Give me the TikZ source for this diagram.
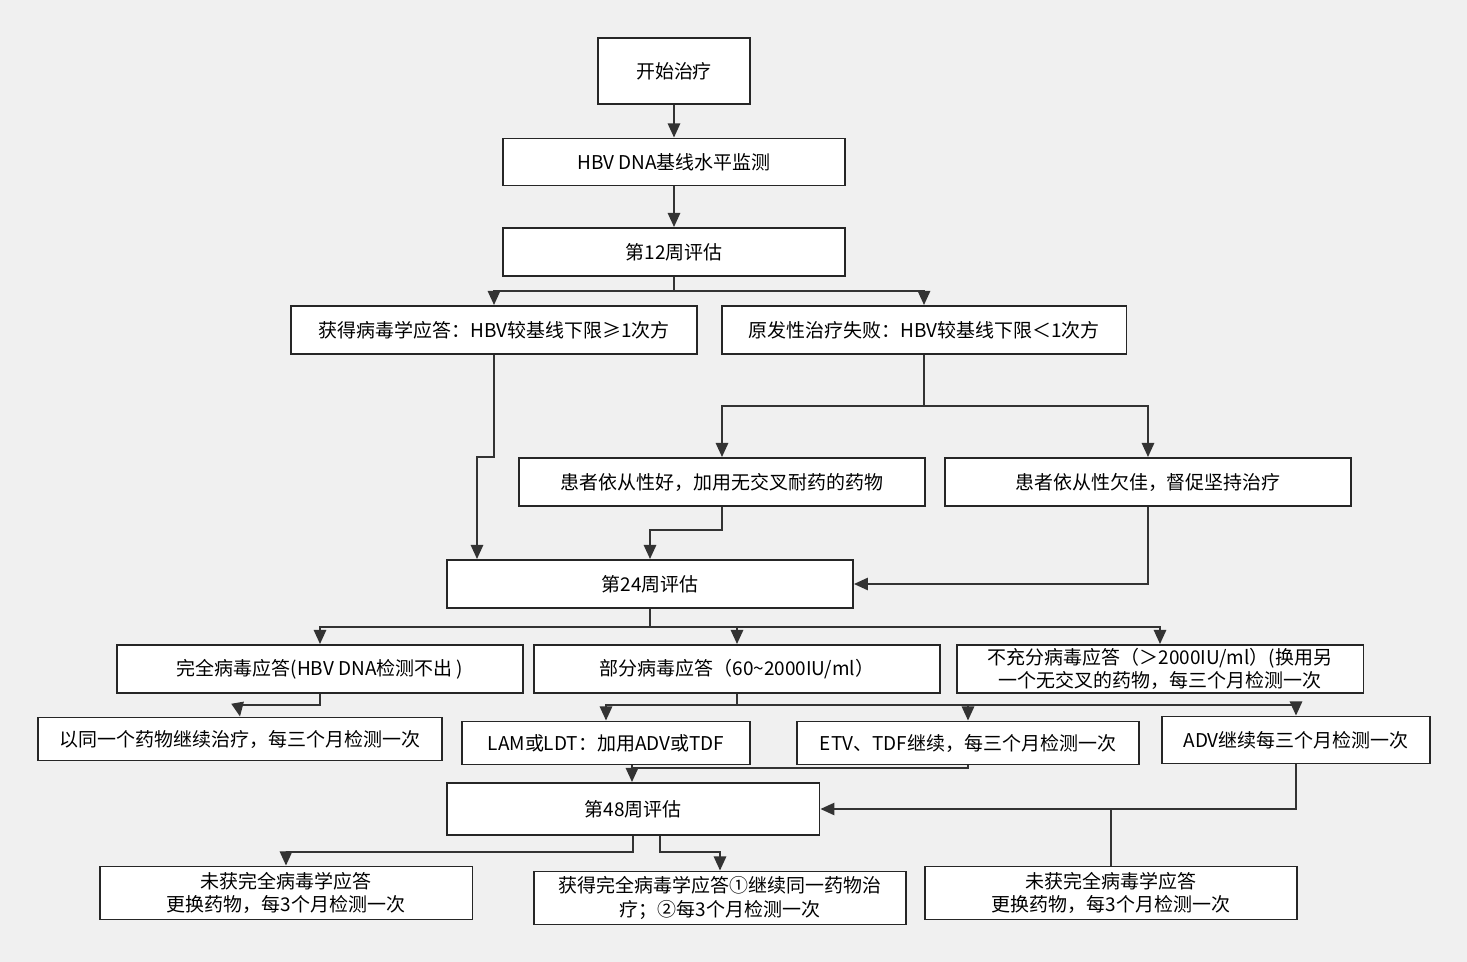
\documentclass[tikz,border=0pt]{standalone}
\usepackage{fontspec}
\setmainfont{Noto Sans CJK SC}
\usetikzlibrary{arrows.meta}
\begin{document}
\begin{tikzpicture}[
        x=0.02cm, y=-0.02cm,
        line width=1.1pt,
        font=\fontsize{10.8}{13.4}\selectfont
    ]
    \tikzset{
        box/.style = {rectangle, draw=black!85, fill=white, align=center, inner sep=0pt},
        edgen/.style = {-, draw=black!80},
        edgea/.style = {-{Triangle[length=8pt,width=7pt]}, draw=black!80},
    }
    \fill[black!6] (0,0) rectangle (1467,962);
    \node[box, minimum width=3.04cm, minimum height=1.32cm] at (674,71) (start) {开始治疗};
    \node[box, minimum width=6.84cm, minimum height=0.94cm] at (674,162) (hbv) {HBV DNA基线水平监测};
    \node[box, minimum width=6.84cm, minimum height=0.96cm] at (674,252) (w12) {第12周评估};
    \node[box, minimum width=8.12cm, minimum height=0.96cm] at (494,330) (resp) {获得病毒学应答：HBV较基线下限≥1次方};
    \node[box, minimum width=8.10cm, minimum height=0.96cm] at (924,330) (fail) {原发性治疗失败：HBV较基线下限＜1次方};
    \node[box, minimum width=8.12cm, minimum height=0.96cm] at (722,482) (good) {患者依从性好，加用无交叉耐药的药物};
    \node[box, minimum width=8.12cm, minimum height=0.96cm] at (1148,482) (poor) {患者依从性欠佳，督促坚持治疗};
    \node[box, minimum width=8.12cm, minimum height=0.96cm] at (650,584) (w24) {第24周评估};
    \node[box, minimum width=8.12cm, minimum height=0.96cm] at (320,669) (full) {完全病毒应答(HBV DNA检测不出 )};
    \node[box, minimum width=8.12cm, minimum height=0.96cm] at (737,669) (part) {部分病毒应答（60\textasciitilde2000IU/ml）};
    \node[box, minimum width=8.14cm, minimum height=0.96cm] at (1160,669) (insuf) {不充分病毒应答（＞2000IU/ml）(换用另\\一个无交叉的药物，每三个月检测一次};
    \node[box, minimum width=8.08cm, minimum height=0.86cm] at (240,739) (same) {以同一个药物继续治疗，每三个月检测一次};
    \node[box, minimum width=5.76cm, minimum height=0.86cm] at (606,743) (lam) {LAM或LDT：加用ADV或TDF};
    \node[box, minimum width=6.84cm, minimum height=0.86cm] at (968,743) (etv) {ETV、TDF继续，每三个月检测一次};
    \node[box, minimum width=5.36cm, minimum height=0.94cm] at (1296,740) (adv) {ADV继续每三个月检测一次};
    \node[box, minimum width=7.46cm, minimum height=1.04cm] at (633,809) (w48) {第48周评估};
    \node[box, minimum width=7.46cm, minimum height=1.06cm] at (286,893) (nr1) {未获完全病毒学应答\\更换药物，每3个月检测一次};
    \node[box, minimum width=7.44cm, minimum height=1.06cm] at (720,898) (ok) {获得完全病毒学应答①继续同一药物治\\疗；②每3个月检测一次};
    \node[box, minimum width=7.44cm, minimum height=1.06cm] at (1111,893) (nr2) {未获完全病毒学应答\\更换药物，每3个月检测一次};
    %
    \coordinate (j12) at (674,291);
    \coordinate (jf) at (924,406);
    \coordinate (jr) at (477,457);
    \coordinate (jg) at (650,530);
    \coordinate (j24) at (650,627);
    \coordinate (jfu) at (238,705);
    \coordinate (jp) at (737,705);
    \coordinate (je) at (632,768);
    \coordinate (j48a) at (286,852);
    \coordinate (j48b) at (720,852);
    %
    \draw[edgea] (start) -- (hbv);
    \draw[edgea] (hbv) -- (w12);
    \draw[edgen] (w12) -- (j12);
    \draw[edgea] (j12) -| (resp);
    \draw[edgea] (j12) -| (fail);
    %
    \draw[edgen] (fail) -- (jf);
    \draw[edgea] (jf) -| (good);
    \draw[edgea] (jf) -| (poor);
    \draw[edgea] (resp.south) |- (jr) -- (jr |- w24.north);
    \draw[edgea] (good.south) |- (jg) -- (w24.north);
    \draw[edgea] (poor.south) |- (w24.east);
    %
    \draw[edgen] (w24) -- (j24);
    \draw[edgea] (j24) -| (full);
    \draw[edgea] (j24) -| (part);
    \draw[edgea] (j24) -| (insuf);
    \draw[edgea] (full.south) |- (jfu) -- (same.north);
    \draw[edgen] (part) -- (jp);
    \draw[edgea] (jp) -| (lam.north);
    \draw[edgea] (jp) -| (etv.north);
    \draw[edgea] (jp) -| (adv.north);
    %
    \draw[edgea] (lam.south -| je) -- (je |- w48.north);
    \draw[edgen] (etv.south) |- (je);
    \draw[edgea] (adv.south) |- (w48.east);
    \draw[edgen] (nr2.north) -- (nr2.north |- w48.east);
    \draw[edgea] (w48.south) |- (j48a) -- (nr1.north);
    \draw[edgea] ([xshift=0.54cm]w48.south) |- (j48b) -- (ok.north);
\end{tikzpicture}
\end{document}
